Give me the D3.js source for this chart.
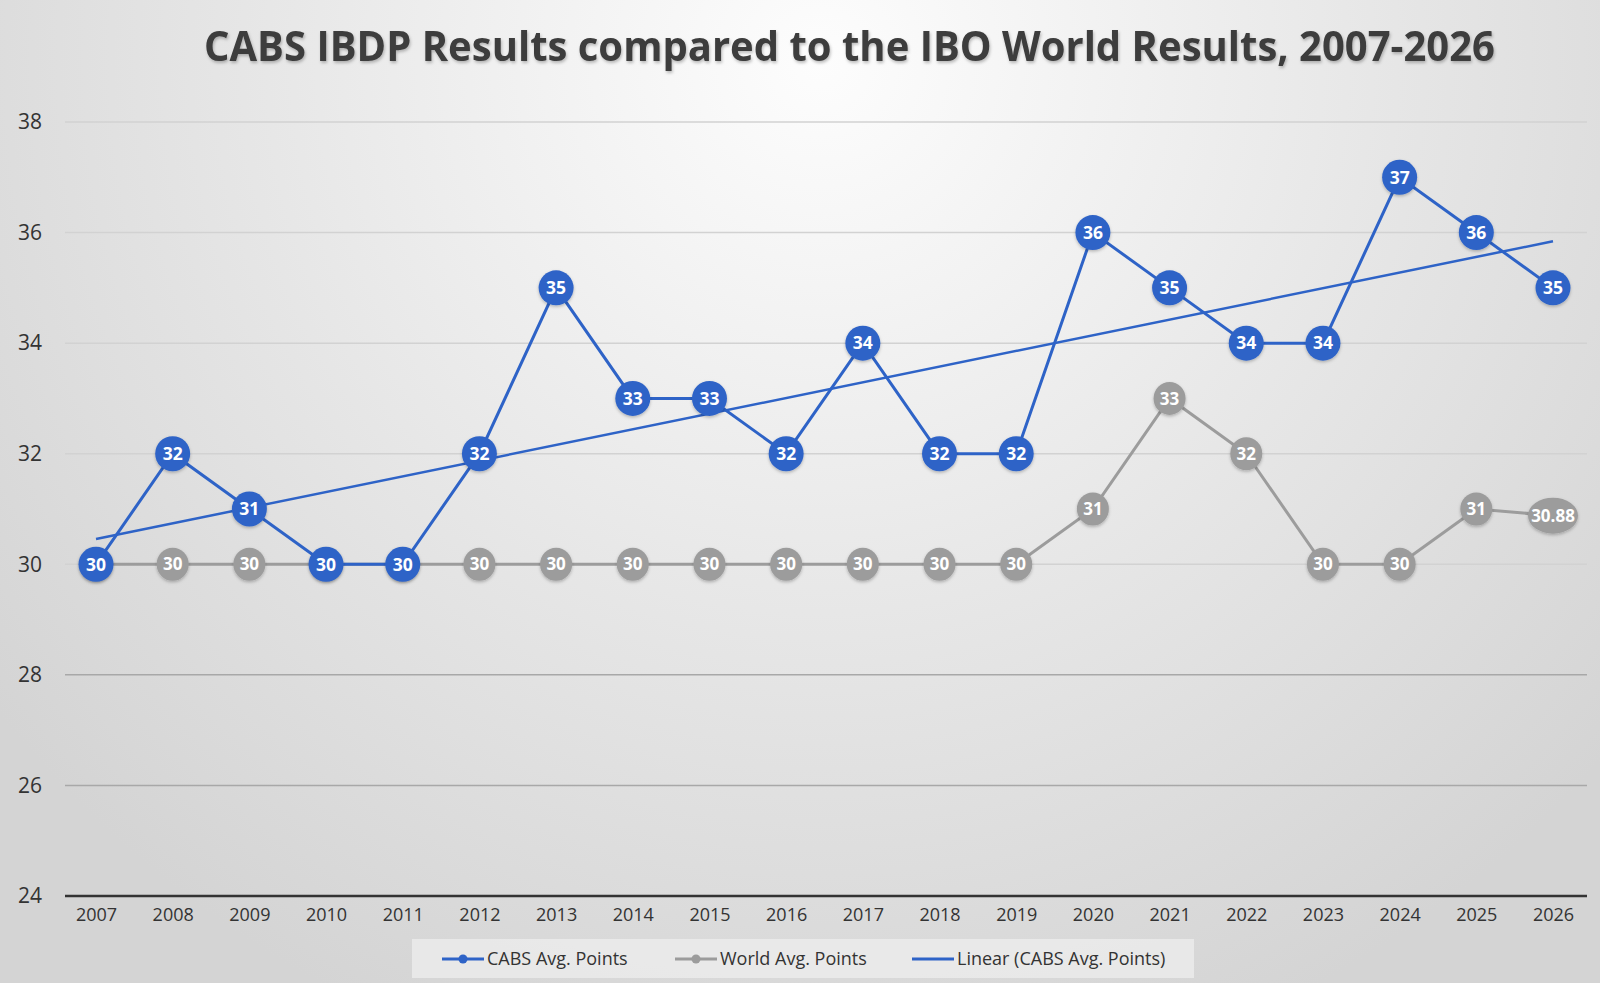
<!DOCTYPE html>
<html>
<head>
<meta charset="utf-8">
<script src="https://cdn.jsdelivr.net/npm/d3@7"></script>
<style>
  html, body { margin: 0; padding: 0; }
  body { width: 1600px; height: 983px; overflow: hidden; }
  svg { display: block; font-family: "Open Sans", "Noto Sans", sans-serif; }
</style>
</head>
<body>
<div class="chart"></div>
<script>
// data
var years = ["2007","2008","2009","2010","2011","2012","2013","2014","2015","2016",
             "2017","2018","2019","2020","2021","2022","2023","2024","2025","2026"];
var cabsPoints = [30,32,31,30,30,32,35,33,33,32,34,32,32,36,35,34,34,37,36,35];
var worldPoints = [30,30,30,30,30,30,30,30,30,30,30,30,30,31,33,32,30,30,31,30.88];
var yTicks = [24,26,28,30,32,34,36,38];
var legendNames = ["CABS Avg. Points", "World Avg. Points", "Linear (CABS Avg. Points)"];

var width = 1600, height = 983;
var blue = "#2e63c7", grey = "#9c9c9c";

var svg = d3.select(".chart")
            .append("svg")
            .attr("width", width)
            .attr("height", height);

var defs = svg.append("defs");

// background: light in the top middle, greyer towards the edges
var bg = defs.append("radialGradient")
             .attr("id", "bg")
             .attr("gradientUnits", "userSpaceOnUse")
             .attr("cx", 820).attr("cy", 60).attr("r", 1050);
bg.append("stop").attr("offset", "0%").attr("stop-color", "#fdfdfd");
bg.append("stop").attr("offset", "55%").attr("stop-color", "#e6e6e6");
bg.append("stop").attr("offset", "100%").attr("stop-color", "#d4d4d4");

var shadow = defs.append("filter").attr("id", "shadow")
                 .attr("x", "-30%").attr("y", "-30%").attr("width", "160%").attr("height", "160%");
shadow.append("feDropShadow")
      .attr("dx", 0).attr("dy", 1.5).attr("stdDeviation", 1.5)
      .attr("flood-color", "#000").attr("flood-opacity", 0.25);

var titleShadow = defs.append("filter").attr("id", "tshadow");
titleShadow.append("feDropShadow")
      .attr("dx", 1).attr("dy", 2).attr("stdDeviation", 1.5)
      .attr("flood-color", "#000").attr("flood-opacity", 0.25);

svg.append("rect")
   .attr("width", width).attr("height", height)
   .attr("fill", "url(#bg)");

// scales
var x = d3.scalePoint().domain(years).range([96, 1553]);
var y = d3.scaleLinear().domain([24, 38]).range([896, 122]);
var plotLeft = 65, plotRight = 1587;

// title
svg.append("text")
   .attr("x", 204).attr("y", 61)
   .attr("textLength", 1291)
   .attr("lengthAdjust", "spacingAndGlyphs")
   .attr("font-size", 41)
   .attr("font-weight", 700)
   .attr("fill", "#3c3c3c")
   .attr("filter", "url(#tshadow)")
   .text("CABS IBDP Results compared to the IBO World Results, 2007-2026");

// gridlines
svg.append("g")
   .selectAll("line")
   .data(yTicks.filter(function(d) { return d > 24; }))
   .join("line")
   .attr("x1", plotLeft).attr("x2", plotRight)
   .attr("y1", function(d) { return y(d); })
   .attr("y2", function(d) { return y(d); })
   .attr("stroke", function(d) { return d < 30 ? "#a8a8a8" : "#d2d2d2"; })
   .attr("stroke-width", 1.5);

// y axis labels
var yAxis = svg.append("g")
   .attr("transform", "translate(" + plotLeft + ",0)")
   .call(d3.axisLeft(y).tickValues(yTicks).tickSize(0).tickPadding(23));
yAxis.select(".domain").remove();
yAxis.selectAll("text")
     .attr("font-size", 21)
     .attr("font-family", "Open Sans, sans-serif")
     .attr("fill", "#333");

// x axis
var xAxis = svg.append("g")
   .attr("transform", "translate(0," + y(24) + ")")
   .call(d3.axisBottom(x).tickSize(0).tickPadding(12));
xAxis.select(".domain").remove();
xAxis.selectAll("text")
     .attr("font-size", 18)
     .attr("font-family", "Open Sans, sans-serif")
     .attr("fill", "#333");
svg.append("line")
   .attr("x1", plotLeft).attr("x2", plotRight)
   .attr("y1", y(24)).attr("y2", y(24))
   .attr("stroke", "#333").attr("stroke-width", 2.5);

var line = d3.line()
             .x(function(d) { return x(d.year); })
             .y(function(d) { return y(d.value); });

var cabs = years.map(function(yr, i) { return { year: yr, value: cabsPoints[i] }; });
var world = years.map(function(yr, i) { return { year: yr, value: worldPoints[i] }; });

// world series (drawn first, sits behind the CABS one)
svg.append("path")
   .datum(world)
   .attr("d", line)
   .attr("fill", "none")
   .attr("stroke", grey)
   .attr("stroke-width", 3);

var worldDots = svg.append("g")
   .selectAll("g")
   .data(world)
   .join("g")
   .attr("transform", function(d) { return "translate(" + x(d.year) + "," + y(d.value) + ")"; });
worldDots.append("ellipse")
   .attr("rx", function(d) { return Number.isInteger(d.value) ? 16 : 25; })
   .attr("ry", function(d) { return Number.isInteger(d.value) ? 16.5 : 18; })
   .attr("fill", grey)
   .attr("filter", "url(#shadow)");
worldDots.append("text")
   .attr("text-anchor", "middle")
   .attr("dy", "0.36em")
   .attr("font-size", 17)
   .attr("font-weight", 700)
   .attr("fill", "#fff")
   .text(function(d) { return Number.isInteger(d.value) ? d.value : d3.format(".2f")(d.value); });

// CABS series
svg.append("path")
   .datum(cabs)
   .attr("d", line)
   .attr("fill", "none")
   .attr("stroke", blue)
   .attr("stroke-width", 3);

// linear trendline (least squares on the CABS values), under the markers
var idx = d3.range(cabsPoints.length);
var mx = d3.mean(idx), my = d3.mean(cabsPoints);
var slope = d3.sum(idx, function(i) { return (i - mx) * (cabsPoints[i] - my); }) /
            d3.sum(idx, function(i) { return (i - mx) * (i - mx); });
var intercept = my - slope * mx;
var last = years.length - 1;
svg.append("line")
   .attr("x1", x(years[0])).attr("y1", y(intercept))
   .attr("x2", x(years[last])).attr("y2", y(intercept + slope * last))
   .attr("stroke", blue)
   .attr("stroke-width", 2.5);

var cabsDots = svg.append("g")
   .selectAll("g")
   .data(cabs)
   .join("g")
   .attr("transform", function(d) { return "translate(" + x(d.year) + "," + y(d.value) + ")"; });
cabsDots.append("circle")
   .attr("r", 17.5)
   .attr("fill", blue)
   .attr("filter", "url(#shadow)");
cabsDots.append("text")
   .attr("text-anchor", "middle")
   .attr("dy", "0.36em")
   .attr("font-size", 17.5)
   .attr("font-weight", 700)
   .attr("fill", "#fff")
   .text(function(d) { return d.value; });

// legend
var legend = svg.append("g");
legend.append("rect")
   .attr("x", 412).attr("y", 939)
   .attr("width", 782).attr("height", 39)
   .attr("fill", "#ebebeb")
   .attr("opacity", 0.85);

var legendX = [442, 675, 912];
var legendColors = [blue, grey, blue];
var items = legend.selectAll("g")
   .data(legendNames)
   .join("g")
   .attr("transform", function(d, i) { return "translate(" + legendX[i] + ",959)"; });
items.append("line")
   .attr("x1", 0).attr("x2", 42)
   .attr("stroke", function(d, i) { return legendColors[i]; })
   .attr("stroke-width", 3);
items.filter(function(d, i) { return i < 2; })
   .append("circle")
   .attr("cx", 21).attr("r", 4.5)
   .attr("fill", function(d, i) { return legendColors[i]; });
items.append("text")
   .attr("x", 45)
   .attr("dy", "0.35em")
   .attr("font-size", 18)
   .attr("fill", "#333")
   .text(function(d) { return d; });
</script>
</body>
</html>
